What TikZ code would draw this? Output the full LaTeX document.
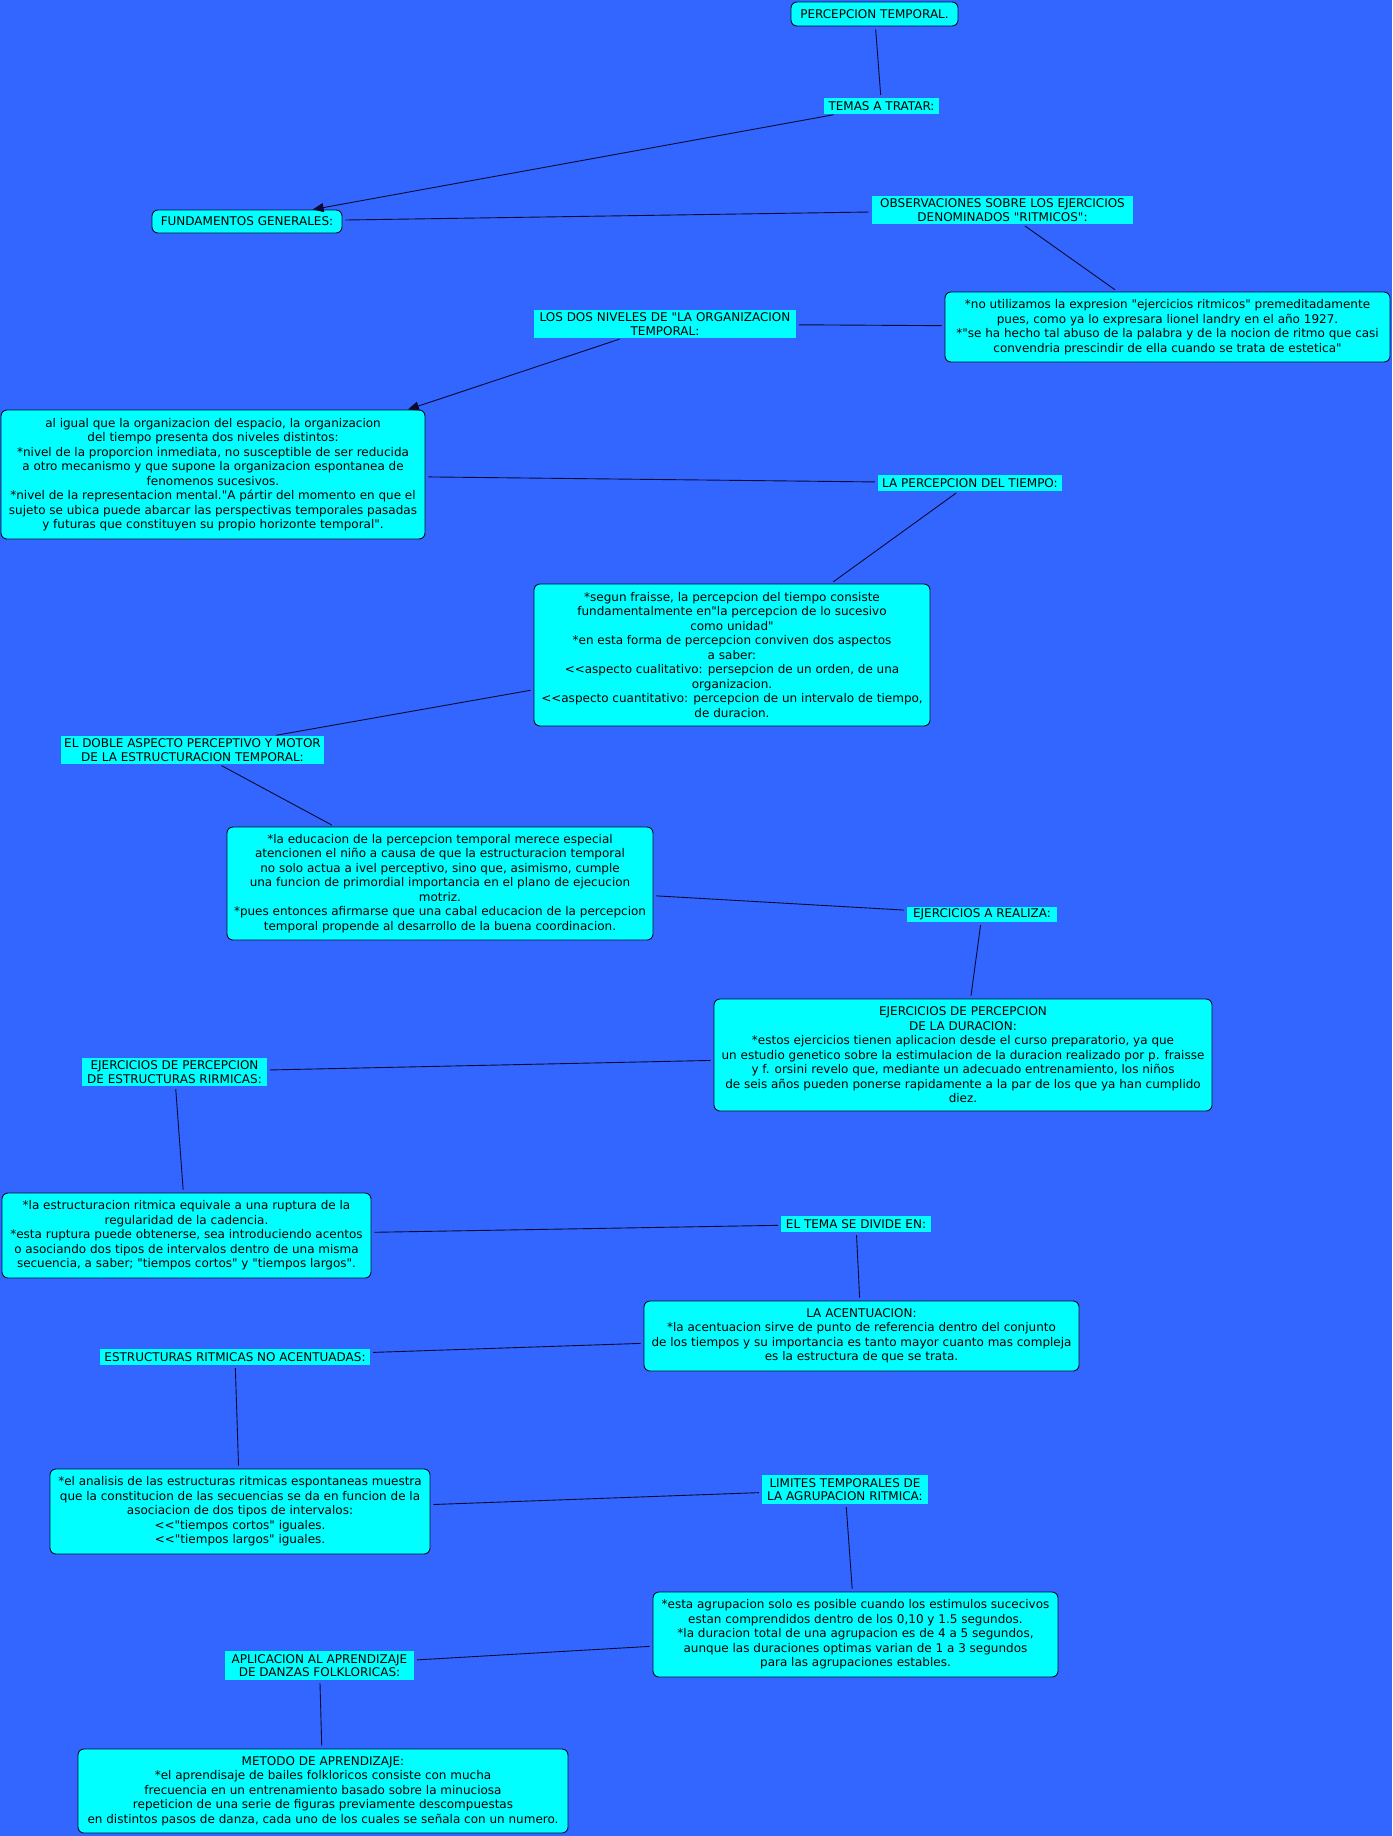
\documentclass[tikz,border=0pt]{standalone}
\usepackage{fontspec}
\setmainfont{DejaVu Sans}[Ligatures=TeXOff]
\usetikzlibrary{arrows.meta}
\definecolor{bg}{HTML}{3366FF}
\definecolor{cy}{HTML}{00FFFF}
\definecolor{ln}{HTML}{0A0A30}
\begin{document}
\begin{tikzpicture}[x=1pt,y=-1pt,
 box/.style={draw=ln, line width=0.9pt, fill=cy, rounded corners=6pt, align=center, inner sep=0pt, font=\fontsize{12}{14.5}\selectfont, text=black},
 lab/.style={fill=cy, align=center, inner sep=0pt, font=\fontsize{12}{13.5}\selectfont, text=black},
 conn/.style={draw=ln, line width=0.9pt, shorten <=3pt, shorten >=3pt},
 arr/.style={draw=ln, line width=0.9pt, shorten <=3pt, -{Triangle[length=11pt,width=9pt]}}]
\fill[bg] (0,0) rectangle (1392,1836);
\useasboundingbox (0,0) rectangle (1392,1836);

\node[box, minimum width=167pt, minimum height=24pt] (n1) at (874.5,14) {PERCEPCION TEMPORAL.};
\node[lab, minimum width=115pt, minimum height=16pt] (l1) at (881.5,106) {TEMAS A TRATAR:};
\node[box, minimum width=190pt, minimum height=23pt] (n2) at (247,221.5) {FUNDAMENTOS GENERALES:};
\node[lab, minimum width=261pt, minimum height=28pt] (l2) at (1002.5,210) {OBSERVACIONES SOBRE LOS EJERCICIOS\\DENOMINADOS "RITMICOS":};
\node[box, minimum width=445pt, minimum height=70pt] (n3) at (1167.5,327) {*no utilizamos la expresion "ejercicios ritmicos" premeditadamente\\pues, como ya lo expresara lionel landry en el año 1927.\\*"se ha hecho tal abuso de la palabra y de la nocion de ritmo que casi\\convendria prescindir de ella cuando se trata de estetica"};
\node[lab, minimum width=262pt, minimum height=28pt] (l3) at (665,324) {LOS DOS NIVELES DE "LA ORGANIZACION\\TEMPORAL:};
\node[box, minimum width=424pt, minimum height=129pt] (n4) at (213,474.5) {al igual que la organizacion del espacio, la organizacion\\del tiempo presenta dos niveles distintos:\\*nivel de la proporcion inmediata, no susceptible de ser reducida\\a otro mecanismo y que supone la organizacion espontanea de\\fenomenos sucesivos.\\*nivel de la representacion mental."A pártir del momento en que el\\sujeto se ubica puede abarcar las perspectivas temporales pasadas\\y futuras que constituyen su propio horizonte temporal".};
\node[lab, minimum width=184pt, minimum height=16pt] (l4) at (970,483) {LA PERCEPCION DEL TIEMPO:};
\node[box, minimum width=396pt, minimum height=142pt] (n5) at (732,655) {*segun fraisse, la percepcion del tiempo consiste\\fundamentalmente en"la percepcion de lo sucesivo\\como unidad"\\*en esta forma de percepcion conviven dos aspectos\\a saber:\\<<aspecto cualitativo: persepcion de un orden, de una\\organizacion.\\<<aspecto cuantitativo: percepcion de un intervalo de tiempo,\\de duracion.};
\node[lab, minimum width=263pt, minimum height=28pt] (l5) at (192.5,750) {EL DOBLE ASPECTO PERCEPTIVO Y MOTOR\\DE LA ESTRUCTURACION TEMPORAL:};
\node[box, minimum width=426pt, minimum height=113pt] (n6) at (440,883.5) {*la educacion de la percepcion temporal merece especial\\atencionen el niño a causa de que la estructuracion temporal\\no solo actua a ivel perceptivo, sino que, asimismo, cumple\\una funcion de primordial importancia en el plano de ejecucion\\motriz.\\*pues entonces afirmarse que una cabal educacion de la percepcion\\temporal propende al desarrollo de la buena coordinacion.};
\node[lab, minimum width=150pt, minimum height=15pt] (l6) at (982,914.5) {EJERCICIOS A REALIZA:};
\node[box, minimum width=498pt, minimum height=112pt] (n7) at (963,1055) {EJERCICIOS DE PERCEPCION\\DE LA DURACION:\\*estos ejercicios tienen aplicacion desde el curso preparatorio, ya que\\un estudio genetico sobre la estimulacion de la duracion realizado por p. fraisse\\y f. orsini revelo que, mediante un adecuado entrenamiento, los niños\\de seis años pueden ponerse rapidamente a la par de los que ya han cumplido\\diez.};
\node[lab, minimum width=185pt, minimum height=28pt] (l7) at (174.5,1072) {EJERCICIOS DE PERCEPCION\\DE ESTRUCTURAS RIRMICAS:};
\node[box, minimum width=369pt, minimum height=85pt] (n8) at (186.5,1235.5) {*la estructuracion ritmica equivale a una ruptura de la\\regularidad de la cadencia.\\*esta ruptura puede obtenerse, sea introduciendo acentos\\o asociando dos tipos de intervalos dentro de una misma\\secuencia, a saber; "tiempos cortos" y "tiempos largos".};
\node[lab, minimum width=150pt, minimum height=16pt] (l8) at (856,1224) {EL TEMA SE DIVIDE EN:};
\node[box, minimum width=435pt, minimum height=70pt] (n9) at (861.5,1336) {LA ACENTUACION:\\*la acentuacion sirve de punto de referencia dentro del conjunto\\de los tiempos y su importancia es tanto mayor cuanto mas compleja\\es la estructura de que se trata.};
\node[lab, minimum width=270pt, minimum height=16pt] (l9) at (235,1357) {ESTRUCTURAS RITMICAS NO ACENTUADAS:};
\node[box, minimum width=380pt, minimum height=85pt] (n10) at (240,1511.5) {*el analisis de las estructuras ritmicas espontaneas muestra\\que la constitucion de las secuencias se da en funcion de la\\asociacion de dos tipos de intervalos:\\<<"tiempos cortos" iguales.\\<<"tiempos largos" iguales.};
\node[lab, minimum width=166pt, minimum height=29pt] (l10) at (845,1489.5) {LIMITES TEMPORALES DE\\LA AGRUPACION RITMICA:};
\node[box, minimum width=405pt, minimum height=85pt] (n11) at (855.5,1634.5) {*esta agrupacion solo es posible cuando los estimulos sucecivos\\estan comprendidos dentro de los 0,10 y 1.5 segundos.\\*la duracion total de una agrupacion es de 4 a 5 segundos,\\aunque las duraciones optimas varian de 1 a 3 segundos\\para las agrupaciones estables.};
\node[lab, minimum width=189pt, minimum height=29pt] (l11) at (319.5,1665.5) {APLICACION AL APRENDIZAJE\\DE DANZAS FOLKLORICAS:};
\node[box, minimum width=490pt, minimum height=84pt] (n12) at (323,1791) {METODO DE APRENDIZAJE:\\*el aprendisaje de bailes folkloricos consiste con mucha\\frecuencia en un entrenamiento basado sobre la minuciosa\\repeticion de una serie de figuras previamente descompuestas\\en distintos pasos de danza, cada uno de los cuales se señala con un numero.};

\draw[conn] (n1) -- (l1);
\draw[arr] (l1) -- (n2);
\draw[conn] (n2) -- (l2);
\draw[conn] (l2) -- (n3);
\draw[conn] (n3) -- (l3);
\draw[arr] (l3) -- (n4);
\draw[conn] (n4) -- (l4);
\draw[conn] (l4) -- (n5);
\draw[conn] (n5) -- (l5);
\draw[conn] (l5) -- (n6);
\draw[conn] (n6) -- (l6);
\draw[conn] (l6) -- (n7);
\draw[conn] (n7) -- (l7);
\draw[conn] (l7) -- (n8);
\draw[conn] (n8) -- (l8);
\draw[conn] (l8) -- (n9);
\draw[conn] (n9) -- (l9);
\draw[conn] (l9) -- (n10);
\draw[conn] (n10) -- (l10);
\draw[conn] (l10) -- (n11);
\draw[conn] (n11) -- (l11);
\draw[conn] (l11) -- (n12);
\end{tikzpicture}
\end{document}
